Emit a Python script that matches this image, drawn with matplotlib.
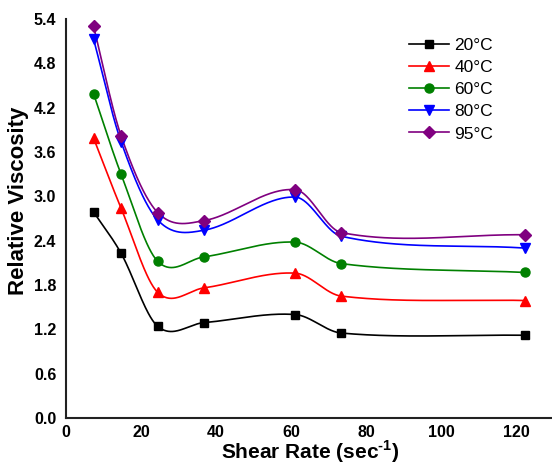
import numpy as np
import matplotlib
matplotlib.use("Agg")
import matplotlib.pyplot as plt
from matplotlib.lines import Line2D

# Shear rates (sec^-1) and relative viscosity at each temperature
shear_rate = [7.34, 14.68, 24.46, 36.69, 61.15, 73.38, 122.3]
visc_20 = [2.79, 2.23, 1.24, 1.29, 1.40, 1.15, 1.12]
visc_40 = [3.79, 2.84, 1.70, 1.76, 1.96, 1.65, 1.59]
visc_60 = [4.39, 3.30, 2.12, 2.18, 2.38, 2.09, 1.97]
visc_80 = [5.13, 3.74, 2.68, 2.54, 2.99, 2.46, 2.30]
visc_95 = [5.30, 3.82, 2.78, 2.67, 3.09, 2.51, 2.48]

labels = ["20°C", "40°C", "60°C", "80°C", "95°C"]
series = [visc_20, visc_40, visc_60, visc_80, visc_95]
colors = ["black", "red", "green", "blue", "purple"]
markers = ["s", "^", "o", "v", "D"]
msizes = [5.5, 7, 6.5, 7, 6]

plt.rcParams["font.family"] = ["Liberation Sans", "DejaVu Sans"]
plt.rcParams["mathtext.fontset"] = "custom"
plt.rcParams["mathtext.rm"] = "Liberation Sans:bold"
plt.rcParams["mathtext.bf"] = "Liberation Sans:bold"


def hermite_curve(x, y, num=600):
    # cubic Hermite interpolation with central-difference tangents
    x = np.asarray(x, float)
    y = np.asarray(y, float)
    n = len(x)
    m = np.empty(n)
    m[0] = (y[1] - y[0]) / (x[1] - x[0])
    m[-1] = (y[-1] - y[-2]) / (x[-1] - x[-2])
    m[1:-1] = (y[2:] - y[:-2]) / (x[2:] - x[:-2])
    xx = np.linspace(x[0], x[-1], num)
    idx = np.clip(np.searchsorted(x, xx, side="right") - 1, 0, n - 2)
    h = x[idx + 1] - x[idx]
    t = (xx - x[idx]) / h
    h00 = 2 * t**3 - 3 * t**2 + 1
    h10 = t**3 - 2 * t**2 + t
    h01 = -2 * t**3 + 3 * t**2
    h11 = t**3 - t**2
    yy = h00 * y[idx] + h10 * h * m[idx] + h01 * y[idx + 1] + h11 * h * m[idx + 1]
    return xx, yy


fig = plt.figure(figsize=(5.52, 4.70), dpi=100)
ax = fig.add_axes([66 / 552, 52 / 470, 1 - 66 / 552, 399 / 470])

xmax = 486 / 3.75
ax.set_xlim(0, xmax)
ax.set_ylim(0, 5.4)

handles = []
for vals, lab, col, mk, ms in zip(series, labels, colors, markers, msizes):
    sx, sy = hermite_curve(shear_rate, vals)
    ax.plot(sx, sy, color=col, lw=1.2, zorder=2)
    ax.plot(shear_rate, vals, linestyle="none", marker=mk, ms=ms,
            color=col, zorder=3, clip_on=False)
    handles.append(Line2D([], [], color=col, lw=1.2, marker=mk, ms=ms))

yt = np.arange(0, 5.41, 0.6)
ax.set_xticks([0, 20, 40, 60, 80, 100, 120])
ax.set_yticks(yt)
ax.set_yticklabels([f"{v:.1f}" for v in yt])
ax.tick_params(length=0, labelsize=11.5)
ax.tick_params(axis="y", pad=7)
ax.tick_params(axis="x", pad=5)
for lbl in ax.get_xticklabels() + ax.get_yticklabels():
    lbl.set_fontweight("bold")

for s in ["top", "right"]:
    ax.spines[s].set_visible(False)
for s in ["left", "bottom"]:
    ax.spines[s].set_linewidth(1.5)
    ax.spines[s].set_color("#222222")

fig.text(310 / 552, 1 - 452 / 470, "Shear Rate (sec$^{\\text{-1}}$)",
         fontsize=15, fontweight="bold", ha="center", va="center")
fig.text(19 / 552, 1 - 201 / 470, "Relative Viscosity", fontsize=16,
         fontweight="bold", ha="center", va="center", rotation=90)

ax.legend(handles, labels, loc="upper left",
          bbox_to_anchor=(409 / 552, 1 - 38 / 470),
          bbox_transform=fig.transFigure, frameon=False, fontsize=12.5,
          handlelength=2.3, labelspacing=0.4, handletextpad=0.3,
          borderpad=0, borderaxespad=0)

fig.savefig("out.png", dpi=100)
